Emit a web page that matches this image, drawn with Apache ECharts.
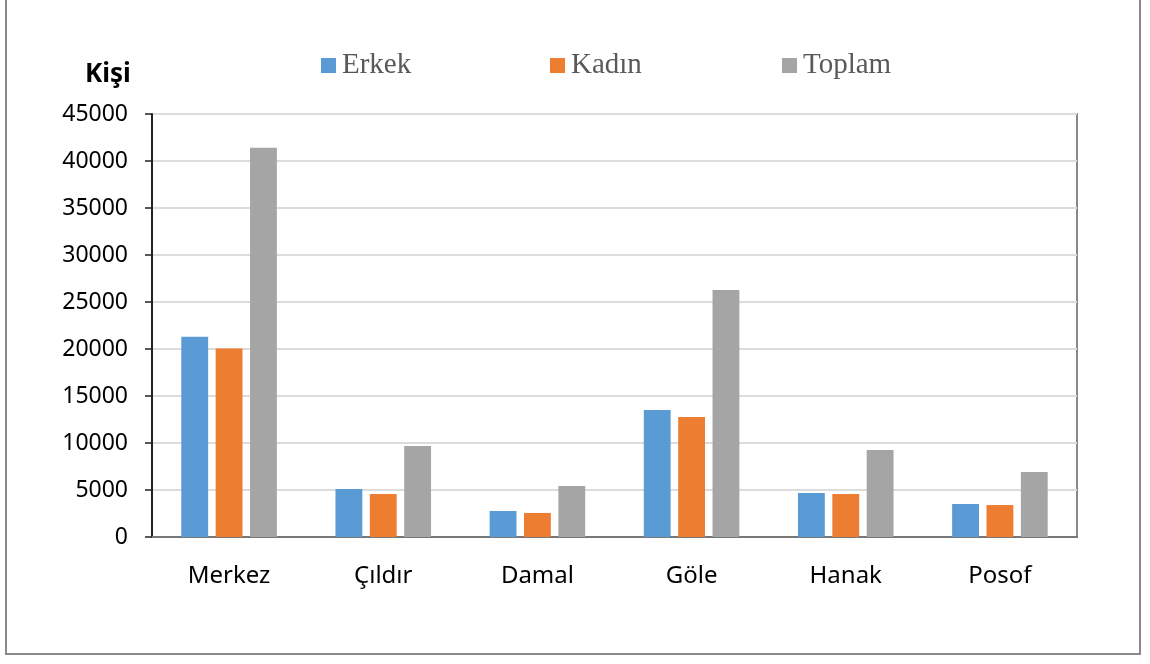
<!DOCTYPE html>
<html>
<head>
<meta charset="utf-8">
<script src="https://cdn.jsdelivr.net/npm/echarts@6/dist/echarts.min.js"></script>
<style>
  html, body { margin: 0; padding: 0; background: #fff; }
  #chart { width: 1150px; height: 664px; }
</style>
</head>
<body>
<div id="chart"></div>
<script>
  // ilçe bazında nüfus (kişi)
  const districts = ["Merkez", "Çıldır", "Damal", "Göle", "Hanak", "Posof"];
  const erkek = [21300, 5100, 2770, 13500, 4680, 3510];
  const kadin = [20050, 4580, 2560, 12770, 4580, 3400];
  const toplam = [41400, 9680, 5430, 26280, 9260, 6920];
  const yTicks = { min: 0, max: 45000, interval: 5000 };

  const FONT = "'Noto Sans', 'Open Sans', sans-serif";
  const SERIF = "'Liberation Serif', 'DejaVu Serif', serif";
  const COLORS = ["#5B9BD5", "#ED7D31", "#A5A5A5"];

  const chart = echarts.init(document.getElementById("chart"), null, { renderer: "canvas" });

  const legendStyle = (name, left) => ({
    data: [name], left: left, top: 51, padding: 0, icon: "rect", itemWidth: 15, itemHeight: 15, itemGap: 5,
    textStyle: { fontFamily: SERIF, fontSize: 29, color: "#595959", padding: [0, 0, 0, 1] },
    selectedMode: false
  });

  chart.setOption({
    animation: false,
    color: COLORS,
    title: { text: "Kişi", left: 80, top: 57, textStyle: { fontFamily: FONT, fontSize: 26, fontWeight: "bold", color: "#000" } },
    legend: [legendStyle("Erkek", 321), legendStyle("Kadın", 550), legendStyle("Toplam", 782)],
    graphic: [{
      type: "rect", shape: { x: 6, y: -10, width: 1134, height: 664 },
      style: { fill: "none", stroke: "#8a8a8a", lineWidth: 2 }, silent: true
    }],
    grid: { left: 152, right: 73, top: 114, bottom: 127, show: true, borderColor: "#888", borderWidth: 2 },
    xAxis: {
      type: "category", data: districts,
      axisLine: { lineStyle: { color: "#777", width: 2 } },
      axisTick: { show: false },
      axisLabel: { fontFamily: FONT, fontSize: 24, color: "#000", margin: 27 }
    },
    yAxis: {
      type: "value", min: yTicks.min, max: yTicks.max, interval: yTicks.interval,
      axisLine: { show: true, lineStyle: { color: "#222", width: 2 } },
      axisTick: { show: true, length: 7, lineStyle: { color: "#222", width: 1.5 } },
      axisLabel: { fontFamily: FONT, fontSize: 23, color: "#000", margin: 24, formatter: (v) => String(v) },
      splitLine: { lineStyle: { color: "#dcdcdc", width: 2 } }
    },
    series: [
      { name: "Erkek", type: "bar", data: erkek, barGap: "28%", barCategoryGap: "38%" },
      { name: "Kadın", type: "bar", data: kadin },
      { name: "Toplam", type: "bar", data: toplam }
    ]
  });
  window.addEventListener("resize", () => chart.resize());
</script>
</body>
</html>
